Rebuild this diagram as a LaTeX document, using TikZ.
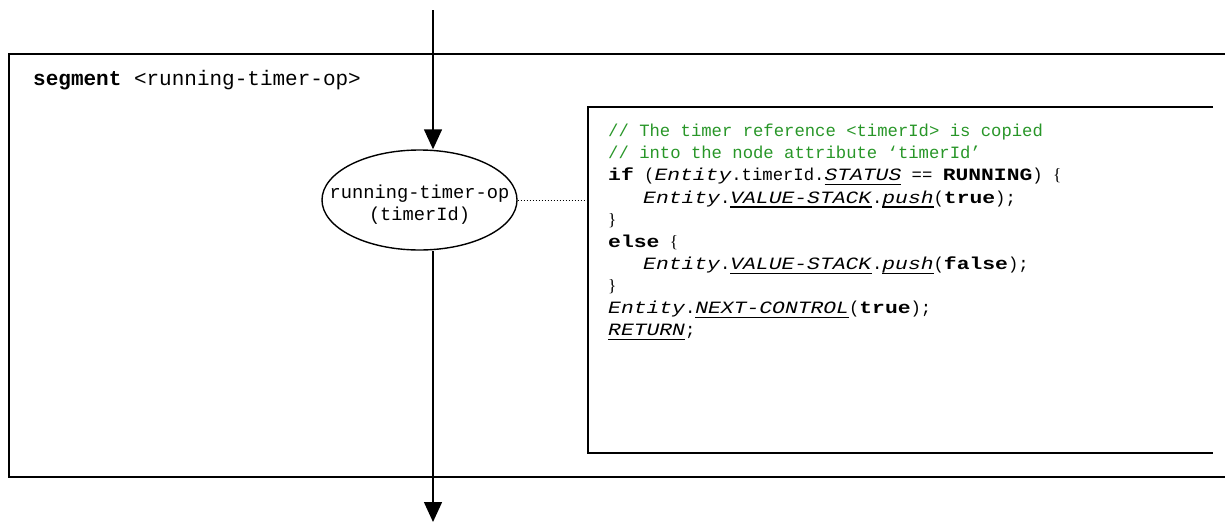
\documentclass[tikz,border=0pt]{standalone}
\usepackage{fontspec}
\setmainfont{Liberation Serif}
\setmonofont{Liberation Mono}
\newfontfamily\codefont{Liberation Mono}[ItalicFeatures={FakeStretch=1.237},BoldFeatures={FakeStretch=1.237}]
\usetikzlibrary{arrows.meta,shapes.geometric}
\definecolor{cgreen}{RGB}{40,150,40}
\newsavebox\ulbox
\newcommand{\ulit}[1]{\sbox\ulbox{\textit{#1}}\rlap{\rule[-4.5pt]{\wd\ulbox}{1.3pt}}\usebox\ulbox}
\newcommand{\lbr}{{\rmfamily\{}}
\newcommand{\rbr}{{\rmfamily\}}}
\begin{document}
\begin{tikzpicture}[x=1pt,y=-1pt,
  frame/.style={line width=1.5pt},
  flow/.style={line width=1.4pt,-{Triangle[length=20pt,width=18pt]}},
  hdrtxt/.style={font=\ttfamily\fontsize{21}{22}\selectfont, inner sep=0pt},
  optxt/.style={font=\ttfamily\fontsize{18.7}{22}\selectfont},
  codetxt/.style={font=\codefont\fontsize{17.25}{22.1}\selectfont, inner sep=0pt},
  blank/.style={inner sep=0pt, outer sep=0pt, anchor=north west}
]
\useasboundingbox (0,0) rectangle (1225,522);
% outer segment frame
\node[blank, minimum width=1216pt, minimum height=423pt] (seg) at (9,54) {};
\draw[frame] (seg.north east) -- (seg.north west) -- (seg.south west) -- (seg.south east);
\node[hdrtxt, anchor=base west] (hdr) at (33,85) {\textbf{segment} <running-timer-op>};
% code box
\node[blank, minimum width=625pt, minimum height=346pt] (cbox) at (588,107) {};
\draw[frame] (cbox.north east) -- (cbox.north west) -- (cbox.south west) -- (cbox.south east);
\node[codetxt, anchor=north west, align=left] (code) at (608,124) {%
{\color{cgreen}// The timer reference <timerId> is copied}\\
{\color{cgreen}// into the node attribute ‘timerId’}\\
\textbf{if} (\textit{Entity}.timerId.\ulit{STATUS} == \textbf{RUNNING}) \lbr\\
\hspace*{35pt}\textit{Entity}.\ulit{VALUE-STACK}.\ulit{push}(\textbf{true});\\
\rbr\\
\textbf{else} \lbr\\
\hspace*{35pt}\textit{Entity}.\ulit{VALUE-STACK}.\ulit{push}(\textbf{false});\\
\rbr\\
\textit{Entity}.\ulit{NEXT-CONTROL}(\textbf{true});\\
\ulit{RETURN};};
% ellipse
\node[ellipse, draw, line width=1.4pt, minimum width=195pt, minimum height=100pt,
      optxt, inner xsep=-70pt, inner ysep=-15pt, align=center] (op) at (419.5,200)
      {\rule{0pt}{22pt}running-timer-op\\(timerId)};
\coordinate (topin) at (433,10);
\coordinate (botout) at (433,522);
\draw[flow] (topin) -- (topin |- op.north);
\draw[flow] (botout |- op.south) -- (botout);
\draw[dotted, line width=1pt] (op.east) -- (op.east -| cbox.west);
\end{tikzpicture}
\end{document}
